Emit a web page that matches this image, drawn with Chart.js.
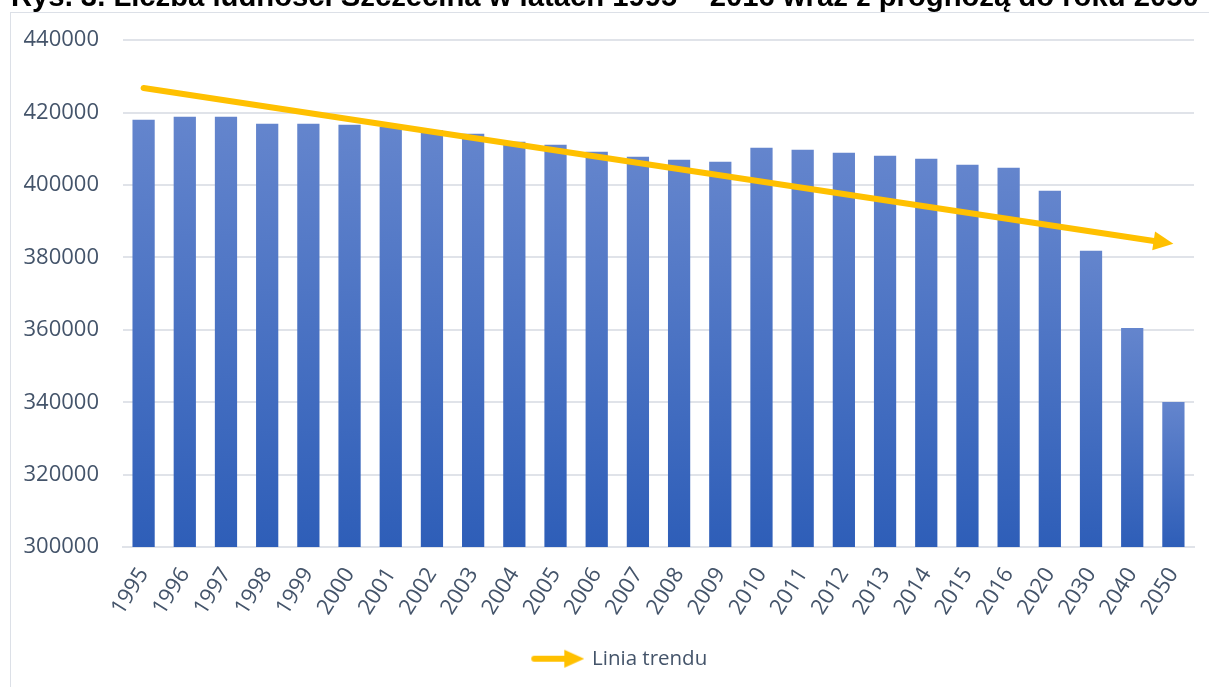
<!DOCTYPE html>
<html>
<head>
<meta charset="utf-8">
<script src="https://cdn.jsdelivr.net/npm/chart.js@4/dist/chart.umd.min.js"></script>
<style>
  html, body { margin: 0; padding: 0; width: 1209px; height: 687px; overflow: hidden; background: #fff; }
  #title {
    position: absolute; left: 11px; top: -17px; z-index: 2;
    font: bold 26px "Liberation Sans", Arial, sans-serif; color: #000;
    white-space: nowrap; line-height: 1;
  }
  #frame {
    position: absolute; left: 10px; top: 12px; width: 1218px; height: 690px;
    border: 1px solid #DCE0E7; background: #fff;
  }
  #frame canvas { display: block; position: relative; top: -10px; }
</style>
</head>
<body>
<div id="title">Rys. 3. Liczba ludności Szczecina w latach 1995 – 2016 wraz z prognozą do roku 2050</div>
<div id="frame"><canvas id="populationChart" width="1218" height="700"></canvas></div>
<script>
// years on the x axis
const years = ['1995', '1996', '1997', '1998', '1999', '2000', '2001', '2002', '2003', '2004',
               '2005', '2006', '2007', '2008', '2009', '2010', '2011', '2012', '2013', '2014',
               '2015', '2016', '2020', '2030', '2040', '2050'];
// population
const population = [418060, 418880, 418880, 416950, 416950, 416670, 416000, 415100, 414180, 411970,
                    411140, 409200, 407820, 406990, 406440, 410310, 409750, 408900, 408100, 407270,
                    405610, 404780, 398410, 381820, 360520, 340050];
// trend line: value at first and last year
const trendEnds = [426800, 383750];
// y axis ticks
const yTicks = [300000, 320000, 340000, 360000, 380000, 400000, 420000, 440000];

const trendData = years.map((y, i) => i === 0 ? trendEnds[0] : (i === years.length - 1 ? trendEnds[1] : null));

// fit the (clipped) title across the page
(function() {
    const t = document.getElementById('title');
    const c = document.createElement('canvas').getContext('2d');
    c.font = 'bold 100px "Liberation Sans"';
    const w = c.measureText(t.textContent).width;
    const size = 100 * 1188 / w;
    t.style.fontSize = size + 'px';
    t.style.top = (7 - 0.8465 * size) + 'px';
})();

const ORANGE = '#FFC000';
const TEXT = '#44546A';
const GRID = '#E0E3E9';

// legend icon: small arrow
const arrowIcon = document.createElement('canvas');
arrowIcon.width = 54;
arrowIcon.height = 20;
(function() {
    const c = arrowIcon.getContext('2d');
    c.strokeStyle = ORANGE;
    c.fillStyle = ORANGE;
    c.lineWidth = 6;
    c.lineCap = 'round';
    c.beginPath();
    c.moveTo(4, 10);
    c.lineTo(36, 10);
    c.stroke();
    c.beginPath();
    c.moveTo(34, 1);
    c.lineTo(54, 10);
    c.lineTo(34, 19);
    c.closePath();
    c.fill();
})();

function barFill(context) {
    const chart = context.chart;
    const area = chart.chartArea;
    if (!area || context.type !== 'data') return '#4472C4';
    const top = chart.scales.y.getPixelForValue(context.raw);
    const g = chart.ctx.createLinearGradient(0, top, 0, area.bottom);
    g.addColorStop(0, '#6485CD');
    g.addColorStop(1, '#2E5EB8');
    return g;
}

// draws the trend arrow between the first and last trend points
const trendArrow = {
    id: 'trendArrow',
    afterDatasetsDraw(chart) {
        const meta = chart.getDatasetMeta(1);
        const a = meta.data[0];
        const b = meta.data[meta.data.length - 1];
        const dx = b.x - a.x, dy = b.y - a.y;
        const len = Math.sqrt(dx * dx + dy * dy);
        const ux = dx / len, uy = dy / len;
        const headLen = 20, headHalf = 9.5;
        const bx = b.x - ux * headLen, by = b.y - uy * headLen;
        const ctx = chart.ctx;
        ctx.save();
        ctx.strokeStyle = ORANGE;
        ctx.fillStyle = ORANGE;
        ctx.lineWidth = 6;
        ctx.lineCap = 'round';
        ctx.beginPath();
        ctx.moveTo(a.x, a.y);
        ctx.lineTo(bx + ux * 2, by + uy * 2);
        ctx.stroke();
        ctx.beginPath();
        ctx.moveTo(b.x, b.y);
        ctx.lineTo(bx - uy * headHalf, by + ux * headHalf);
        ctx.lineTo(bx + uy * headHalf, by - ux * headHalf);
        ctx.closePath();
        ctx.fill();
        ctx.restore();
    }
};

const ctx = document.getElementById('populationChart').getContext('2d');
const populationChart = new Chart(ctx, {
    type: 'bar',
    data: {
        labels: years,
        datasets: [{
            label: 'Liczba ludności',
            data: population,
            backgroundColor: barFill,
            barPercentage: 0.54,
            categoryPercentage: 1.0
        }, {
            type: 'line',
            label: 'Linia trendu',
            data: trendData,
            showLine: false,
            pointRadius: 0,
            pointHoverRadius: 0,
            borderColor: ORANGE,
            backgroundColor: ORANGE
        }]
    },
    options: {
        responsive: false,
        animation: false,
        layout: {
            padding: { left: 0, right: 0, top: 18, bottom: 24 }
        },
        scales: {
            x: {
                grid: { display: false },
                border: { display: true, color: GRID, width: 2 },
                ticks: {
                    color: TEXT,
                    font: { family: 'Open Sans', size: 22 },
                    minRotation: 58,
                    maxRotation: 58,
                    padding: 8,
                    autoSkip: false
                },
                afterFit: function(scale) { scale.height = 91.4; }
            },
            y: {
                min: 300000,
                max: 440000,
                afterBuildTicks: function(scale) { scale.ticks = yTicks.map(v => ({ value: v })); },
                grid: { color: GRID, lineWidth: 2, drawTicks: false },
                border: { display: false },
                ticks: {
                    color: TEXT,
                    font: { family: 'Open Sans', size: 22 },
                    padding: 24,
                    callback: function(value) { return String(value); }
                },
                afterFit: function(scale) { scale.width = 112; }
            },
            // empty right-hand spacer so the legend stays centred on the frame
            spacer: {
                type: 'linear',
                position: 'right',
                grid: { display: false },
                border: { display: false },
                ticks: { display: false },
                afterFit: function(scale) { scale.width = 35; }
            }
        },
        plugins: {
            legend: {
                position: 'bottom',
                labels: {
                    usePointStyle: true,
                    pointStyle: arrowIcon,
                    pointStyleWidth: 49,
                    color: TEXT,
                    font: { family: 'Open Sans', size: 20.5 },
                    padding: 10,
                    filter: function(item) { return item.datasetIndex === 1; }
                }
            },
            tooltip: { enabled: false }
        }
    },
    plugins: [trendArrow]
});
</script>
</body>
</html>
